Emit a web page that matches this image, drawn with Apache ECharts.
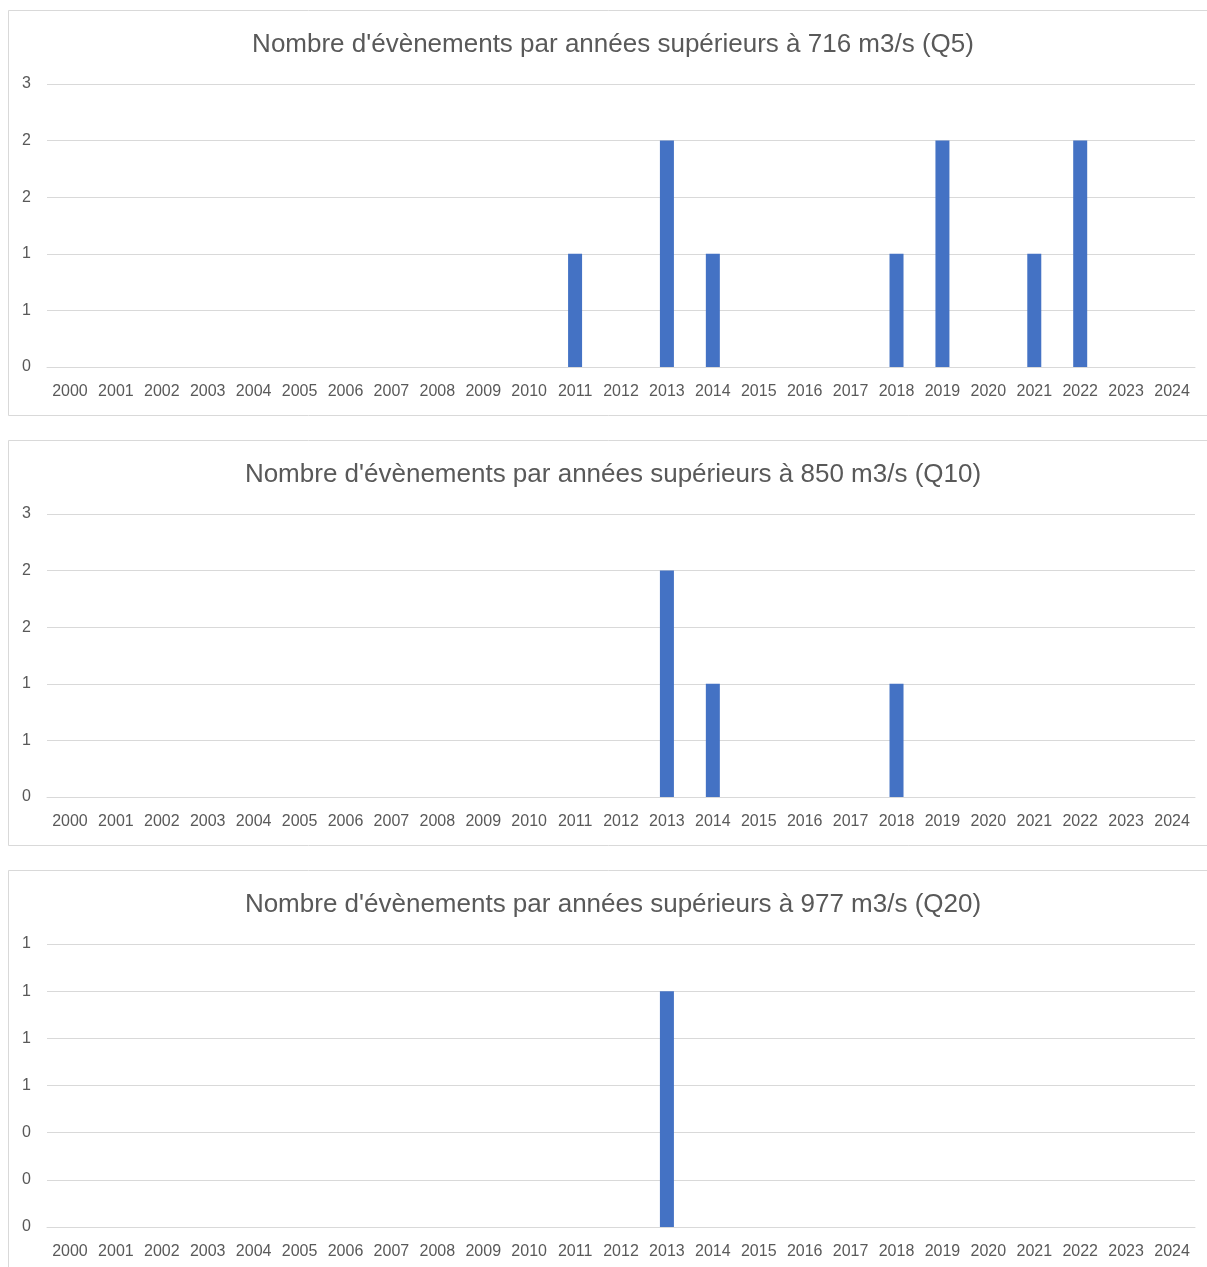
<!DOCTYPE html>
<html><head><meta charset="utf-8">
<script src="https://cdn.jsdelivr.net/npm/echarts@6/dist/echarts.min.js"></script>
<style>html,body{margin:0;padding:0;background:#fff}#c{width:1207px;height:1267px}</style>
</head><body><div id="c"></div>
<script>
const years = ['2000','2001','2002','2003','2004','2005','2006','2007','2008','2009','2010','2011','2012','2013','2014','2015','2016','2017','2018','2019','2020','2021','2022','2023','2024'];
const titles = [
  "Nombre d'évènements par années supérieurs à 716 m3/s (Q5)",
  "Nombre d'évènements par années supérieurs à 850 m3/s (Q10)",
  "Nombre d'évènements par années supérieurs à 977 m3/s (Q20)"
];
const q5  = [0,0,0,0,0,0,0,0,0,0,0,1,0,2,1,0,0,0,1,2,0,1,2,0,0];
const q10 = [0,0,0,0,0,0,0,0,0,0,0,0,0,2,1,0,0,0,1,0,0,0,0,0,0];
const q20 = [0,0,0,0,0,0,0,0,0,0,0,0,0,1,0,0,0,0,0,0,0,0,0,0,0];
const yMax = [2.5, 2.5, 1.2];
const yStep = [0.5, 0.5, 0.2];
const seriesData = [q5, q10, q20];

const FONT = 'Liberation Sans';
const boxes = [[8,10,1210,405],[8,440,1210,405],[8,870,1210,420]];
const gridTops = [84, 514, 944];
const titleTops = [27, 457, 887];

const option = {
  animation: false,
  backgroundColor: '#fff',
  graphic: boxes.map(b => ({type:'rect', shape:{x:b[0]+0.5,y:b[1]+0.5,width:b[2],height:b[3]}, style:{fill:'none', stroke:'#d9d9d9', lineWidth:1}, silent:true, z:-1})),
  title: titles.map((t,i) => ({text:t, left:608, top:titleTops[i], textAlign:'center', textStyle:{fontFamily:FONT, fontSize:26, fontWeight:'normal', color:'#595959'}})),
  grid: gridTops.map(t => ({left:47, width:1148, top:t, height:283})),
  xAxis: [0,1,2].map(i => ({type:'category', gridIndex:i, data:years,
    axisLine:{lineStyle:{color:'#d9d9d9'}}, axisTick:{show:false},
    axisLabel:{interval:0, color:'#595959', fontFamily:FONT, fontSize:16, margin:17}})),
  yAxis: [0,1,2].map(i => ({type:'value', gridIndex:i, min:0, max:yMax[i], interval:yStep[i],
    axisLine:{show:false}, axisTick:{show:false},
    splitLine:{lineStyle:{color:'#d9d9d9'}},
    axisLabel:{color:'#595959', fontFamily:FONT, fontSize:16, margin:16, formatter:v => String(Math.round(v+1e-9))}})),
  series: seriesData.map((d,i) => ({type:'bar', xAxisIndex:i, yAxisIndex:i, data:d, barWidth:14, itemStyle:{color:'#4472C4'}}))
};
echarts.init(document.getElementById('c')).setOption(option);
</script></body></html>
